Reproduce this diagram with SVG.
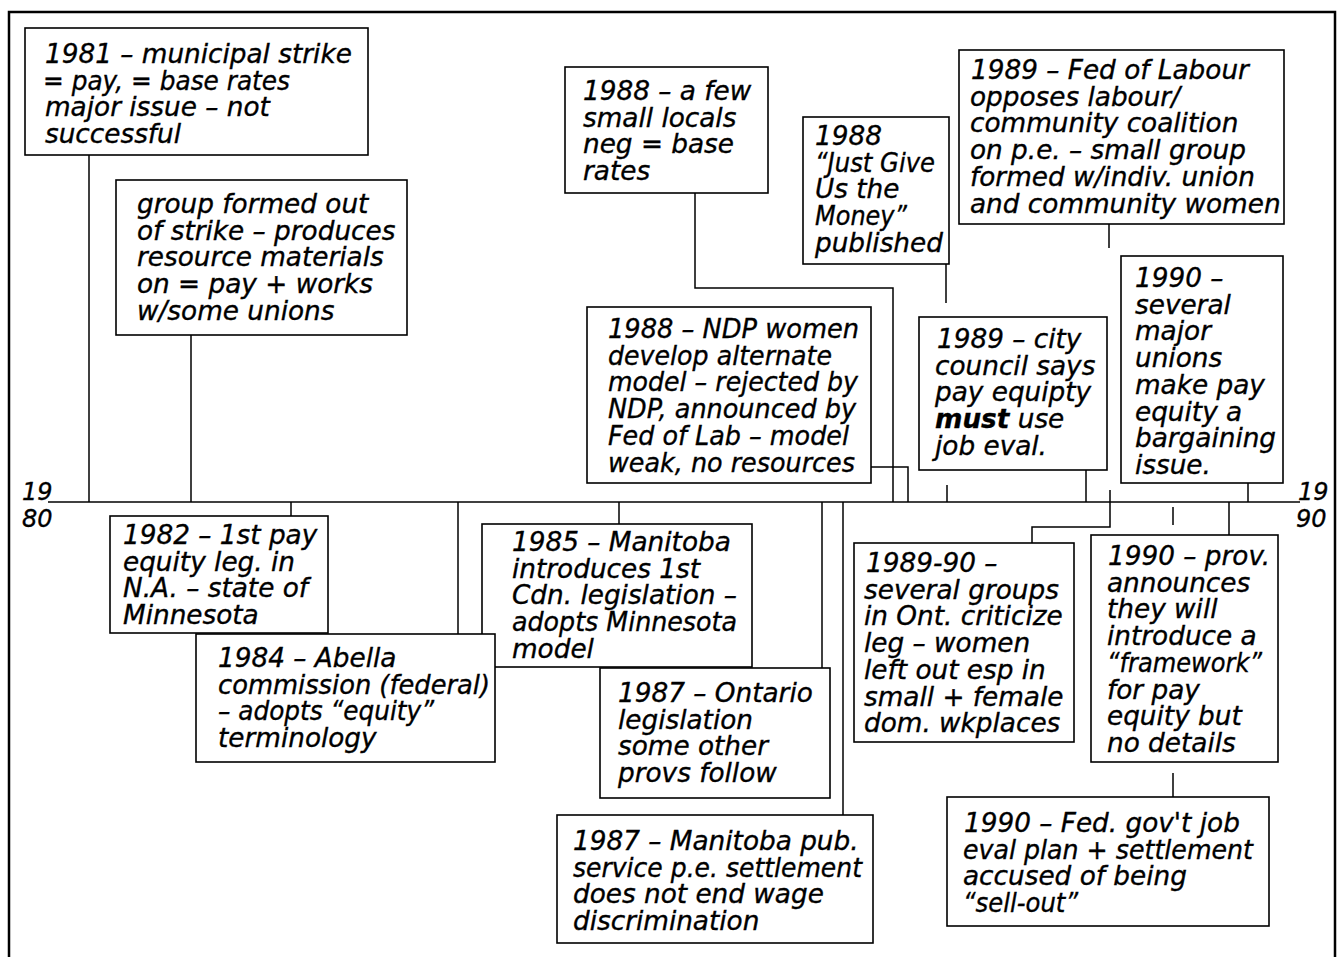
<svg xmlns="http://www.w3.org/2000/svg" width="1341" height="957" viewBox="0 0 1341 957">
<style>
.frame{fill:none;stroke:#000;stroke-width:2.5}
.box{fill:#fff;stroke:#000;stroke-width:1.6}
.c{fill:none;stroke:#000;stroke-width:1.5}
.t{font-family:"DejaVu Sans",sans-serif;font-style:italic;font-size:26.3px;fill:#000;stroke:#000;stroke-width:0.35}
.y{font-family:"DejaVu Sans",sans-serif;font-style:italic;font-size:24px;fill:#000;stroke:#000;stroke-width:0.35}
.b{font-weight:bold}
</style>
<rect width="1341" height="957" fill="#fff"/>
<path class="frame" d="M9,957 V12 H1335 V957"/>
<g id="timeline">
<path class="c" d="M48,502 H1300" stroke-width="2"/>
<text class="y" x="22" y="500">19</text>
<text class="y" x="22" y="527">80</text>
<text class="y" x="1298" y="500">19</text>
<text class="y" x="1296" y="527">90</text>
</g>
<g id="connectors">
<path class="c" d="M89,155 V502"/>
<path class="c" d="M191,335 V502"/>
<path class="c" d="M291,502 V516"/>
<path class="c" d="M458,502 V634"/>
<path class="c" d="M619,502 V524"/>
<path class="c" d="M822,502 V668"/>
<path class="c" d="M843,502 V815"/>
<path class="c" d="M695,193 V288 H893 V502"/>
<path class="c" d="M871,467 H908 V502"/>
<path class="c" d="M946,264 V303"/>
<path class="c" d="M947,485 V502"/>
<path class="c" d="M1086,470 V502"/>
<path class="c" d="M1109,224 V248"/>
<path class="c" d="M1110,490 V527 H1032 V543"/>
<path class="c" d="M1248,483 V502"/>
<path class="c" d="M1229,502 V535"/>
<path class="c" d="M1173,507 V525"/>
<path class="c" d="M1173,773 V797"/>
</g>
<g id="n1981">
<rect class="box" x="25" y="28" width="343" height="127"/>
<text class="t"><tspan x="45" y="63">1981 – municipal strike</tspan><tspan x="43" y="89.7" textLength="247" lengthAdjust="spacingAndGlyphs">= pay, = base rates</tspan><tspan x="45" y="116.4">major issue – not</tspan><tspan x="45" y="143.1">successful</tspan></text>
</g>
<g id="ngroup">
<rect class="box" x="116" y="180" width="291" height="155"/>
<text class="t"><tspan x="137" y="213">group formed out</tspan><tspan x="137" y="239.7">of strike – produces</tspan><tspan x="137" y="266.4">resource materials</tspan><tspan x="137" y="293.1">on = pay + works</tspan><tspan x="137" y="319.8">w/some unions</tspan></text>
</g>
<g id="n1982">
<rect class="box" x="110" y="516" width="218" height="117"/>
<text class="t"><tspan x="123" y="544">1982 – 1st pay</tspan><tspan x="123" y="570.7">equity leg. in</tspan><tspan x="123" y="597.4">N.A. – state of</tspan><tspan x="123" y="624.1">Minnesota</tspan></text>
</g>
<g id="n1985">
<rect class="box" x="482" y="524" width="270" height="143"/>
<text class="t"><tspan x="512" y="551">1985 – Manitoba</tspan><tspan x="512" y="577.7">introduces 1st</tspan><tspan x="512" y="604.4">Cdn. legislation –</tspan><tspan x="512" y="631.1" textLength="225" lengthAdjust="spacingAndGlyphs">adopts Minnesota</tspan><tspan x="512" y="657.8">model</tspan></text>
</g>
<g id="n1984">
<rect class="box" x="196" y="634" width="299" height="128"/>
<text class="t"><tspan x="218" y="667">1984 – Abella</tspan><tspan x="218" y="693.7" textLength="272" lengthAdjust="spacingAndGlyphs">commission (federal)</tspan><tspan x="218" y="720.4" textLength="216" lengthAdjust="spacingAndGlyphs">– adopts “equity”</tspan><tspan x="218" y="747.1">terminology</tspan></text>
</g>
<g id="n1987ont">
<rect class="box" x="600" y="668" width="230" height="130"/>
<text class="t"><tspan x="618" y="702">1987 – Ontario</tspan><tspan x="618" y="728.7">legislation</tspan><tspan x="618" y="755.4">some other</tspan><tspan x="618" y="782.1">provs follow</tspan></text>
</g>
<g id="n1987man">
<rect class="box" x="557" y="815" width="316" height="128"/>
<text class="t"><tspan x="573" y="850">1987 – Manitoba pub.</tspan><tspan x="573" y="876.7" textLength="289" lengthAdjust="spacingAndGlyphs">service p.e. settlement</tspan><tspan x="573" y="903.4">does not end wage</tspan><tspan x="573" y="930.1">discrimination</tspan></text>
</g>
<g id="n1988locals">
<rect class="box" x="565" y="67" width="203" height="126"/>
<text class="t"><tspan x="583" y="100">1988 – a few</tspan><tspan x="583" y="126.7">small locals</tspan><tspan x="583" y="153.4">neg = base</tspan><tspan x="583" y="180.1">rates</tspan></text>
</g>
<g id="n1988ndp">
<rect class="box" x="587" y="307" width="284" height="176"/>
<text class="t"><tspan x="608" y="338" textLength="251" lengthAdjust="spacingAndGlyphs">1988 – NDP women</tspan><tspan x="608" y="364.7" textLength="224" lengthAdjust="spacingAndGlyphs">develop alternate</tspan><tspan x="608" y="391.4" textLength="250" lengthAdjust="spacingAndGlyphs">model – rejected by</tspan><tspan x="608" y="418.1" textLength="248" lengthAdjust="spacingAndGlyphs">NDP, announced by</tspan><tspan x="608" y="444.8" textLength="241" lengthAdjust="spacingAndGlyphs">Fed of Lab – model</tspan><tspan x="608" y="471.5" textLength="247" lengthAdjust="spacingAndGlyphs">weak, no resources</tspan></text>
</g>
<g id="n1988money">
<rect class="box" x="803" y="117" width="146" height="147"/>
<text class="t"><tspan x="815" y="145">1988</tspan><tspan x="815" y="171.7" textLength="120" lengthAdjust="spacingAndGlyphs">“Just Give</tspan><tspan x="815" y="198.4">Us the</tspan><tspan x="815" y="225.1" textLength="92" lengthAdjust="spacingAndGlyphs">Money”</tspan><tspan x="815" y="251.8">published</tspan></text>
</g>
<g id="n1989city">
<rect class="box" x="919" y="317" width="188" height="153"/>
<text class="t"><tspan x="937" y="348">1989 – city</tspan><tspan x="935" y="374.7">council says</tspan><tspan x="935" y="401.4">pay equipty</tspan><tspan x="935" y="428.1"><tspan class="b">must</tspan> use</tspan><tspan x="935" y="454.8">job eval.</tspan></text>
</g>
<g id="n1989fed">
<rect class="box" x="959" y="50" width="325" height="174"/>
<text class="t"><tspan x="971" y="79">1989 – Fed of Labour</tspan><tspan x="970" y="105.7">opposes labour/</tspan><tspan x="970" y="132.4">community coalition</tspan><tspan x="970" y="159.1">on p.e. – small group</tspan><tspan x="970" y="185.8">formed w/indiv. union</tspan><tspan x="970" y="212.5">and community women</tspan></text>
</g>
<g id="n1990unions">
<rect class="box" x="1121" y="256" width="162" height="227"/>
<text class="t"><tspan x="1135" y="287">1990 –</tspan><tspan x="1135" y="313.7">several</tspan><tspan x="1135" y="340.4">major</tspan><tspan x="1135" y="367.1">unions</tspan><tspan x="1135" y="393.8">make pay</tspan><tspan x="1135" y="420.5">equity a</tspan><tspan x="1135" y="447.2">bargaining</tspan><tspan x="1135" y="473.9">issue.</tspan></text>
</g>
<g id="n1989-90">
<rect class="box" x="854" y="543" width="220" height="199"/>
<text class="t"><tspan x="866" y="572">1989-90 –</tspan><tspan x="864" y="598.7">several groups</tspan><tspan x="864" y="625.4">in Ont. criticize</tspan><tspan x="864" y="652.1">leg – women</tspan><tspan x="864" y="678.8">left out esp in</tspan><tspan x="864" y="705.5">small + female</tspan><tspan x="864" y="732.2">dom. wkplaces</tspan></text>
</g>
<g id="n1990prov">
<rect class="box" x="1091" y="535" width="187" height="227"/>
<text class="t"><tspan x="1108" y="565">1990 – prov.</tspan><tspan x="1107" y="591.7">announces</tspan><tspan x="1107" y="618.4">they will</tspan><tspan x="1107" y="645.1">introduce a</tspan><tspan x="1107" y="671.8" textLength="155" lengthAdjust="spacingAndGlyphs">“framework”</tspan><tspan x="1107" y="698.5">for pay</tspan><tspan x="1107" y="725.2">equity but</tspan><tspan x="1107" y="751.9">no details</tspan></text>
</g>
<g id="n1990fed">
<rect class="box" x="947" y="797" width="322" height="129"/>
<text class="t"><tspan x="964" y="832">1990 – Fed. gov't job</tspan><tspan x="963" y="858.7" textLength="290" lengthAdjust="spacingAndGlyphs">eval plan + settlement</tspan><tspan x="963" y="885.4">accused of being</tspan><tspan x="963" y="912.1" textLength="115" lengthAdjust="spacingAndGlyphs">“sell-out”</tspan></text>
</g>
</svg>
